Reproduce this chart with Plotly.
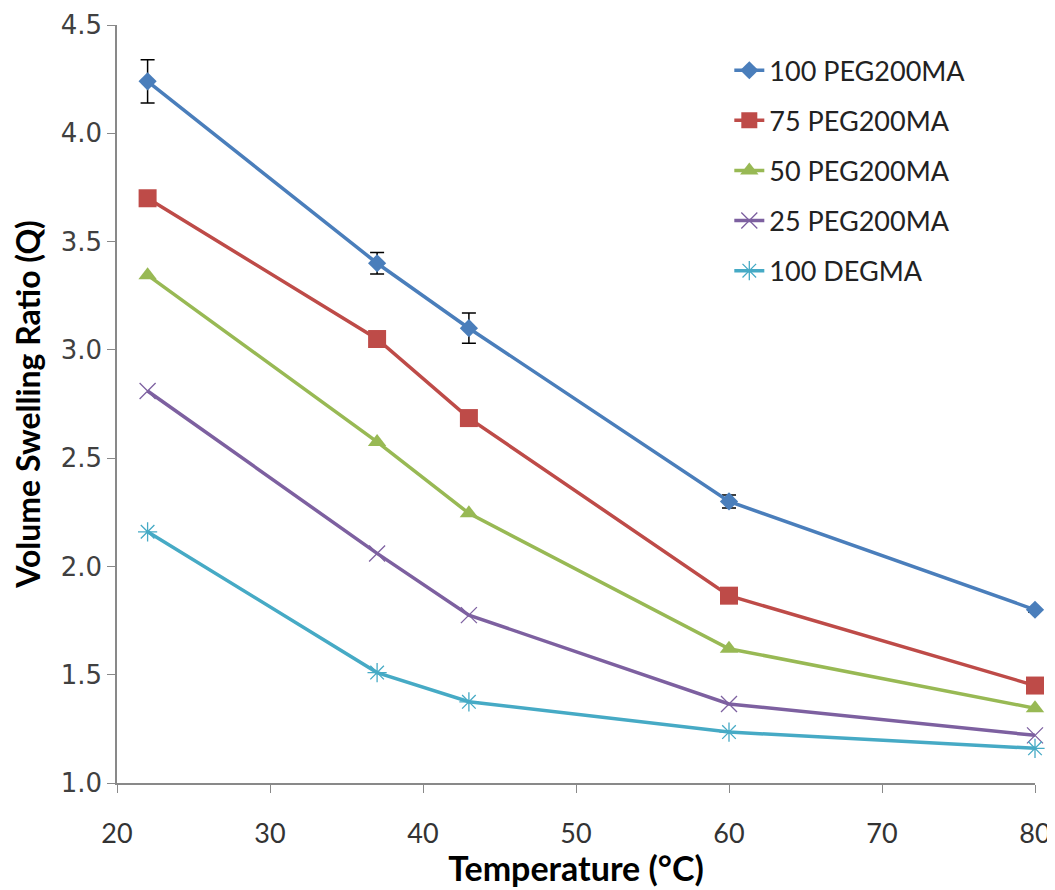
import plotly.graph_objects as go

temps = [22, 37, 43, 60, 80]
names = ["100 PEG200MA", "75 PEG200MA", "50 PEG200MA", "25 PEG200MA", "100 DEGMA"]
q_100peg = [4.24, 3.40, 3.10, 2.30, 1.80]
q_100peg_err = [0.10, 0.05, 0.07, 0.03, 0.01]
q_75peg = [3.70, 3.05, 2.685, 1.865, 1.45]
q_50peg = [3.345, 2.575, 2.245, 1.62, 1.345]
q_25peg = [2.81, 2.06, 1.775, 1.365, 1.22]
q_degma = [2.16, 1.51, 1.375, 1.235, 1.16]

series = [q_100peg, q_75peg, q_50peg, q_25peg, q_degma]
line_colors = ["#4A7EBB", "#BE4B48", "#98B954", "#7D60A0", "#46AAC5"]
symbols = ["diamond", "square", "triangle-up", "x-thin-open", "asterisk-open"]
sizes = [14, 18, 16, 16, 16]

fig = go.Figure()
for i, (nm, ys) in enumerate(zip(names, series)):
    kw = {}
    if i == 0:
        kw["error_y"] = dict(type="data", array=q_100peg_err, visible=True,
                             color="black", thickness=1.5, width=7)
    marker = dict(symbol=symbols[i], size=sizes[i], color=line_colors[i])
    if symbols[i].endswith("open"):
        marker["line"] = dict(color=line_colors[i], width=1.3)
    fig.add_trace(go.Scatter(
        x=temps, y=ys, name=nm, mode="lines+markers",
        line=dict(color=line_colors[i], width=3.5),
        marker=marker, legendgroup=nm, cliponaxis=False, **kw))

fig.update_layout(
    width=1047, height=880,
    margin=dict(l=109, r=20, t=17, b=105, autoexpand=False),
    paper_bgcolor="white", plot_bgcolor="white",
    showlegend=True,
    legend=dict(x=0.667, y=0.972, xanchor="left", yanchor="top",
                font=dict(family="Lato, Open Sans, sans-serif", size=27, color="#222222"),
                tracegroupgap=12, bgcolor="rgba(0,0,0,0)"),
    xaxis=dict(range=[20, 80], dtick=10, showgrid=False, zeroline=False, automargin=False,
               showline=True, linecolor="#898989", linewidth=1.5,
               ticks="outside", ticklen=8, tickcolor="#898989",
               ticklabelstandoff=18,
               tickfont=dict(family="Lato, Open Sans, sans-serif", size=27, color="#333333"),
               title=dict(text="<b>Temperature (°C)</b>",
                          font=dict(family="Lato, Open Sans, sans-serif", size=34, color="black"),
                          standoff=10)),
    yaxis=dict(range=[1.0, 4.5], dtick=0.5, tickformat=".1f", showgrid=False, zeroline=False,
               automargin=False,
               showline=True, linecolor="#898989", linewidth=1.5,
               ticks="outside", ticklen=8, tickcolor="#898989",
               tickfont=dict(family="DejaVu Sans, sans-serif", size=26, color="#404040"),
               title=dict(text="<b>Volume Swelling Ratio (Q)</b>",
                          font=dict(family="Lato, Open Sans, sans-serif", size=32, color="black"),
                          standoff=12)),
)
fig.write_html("out.html")
